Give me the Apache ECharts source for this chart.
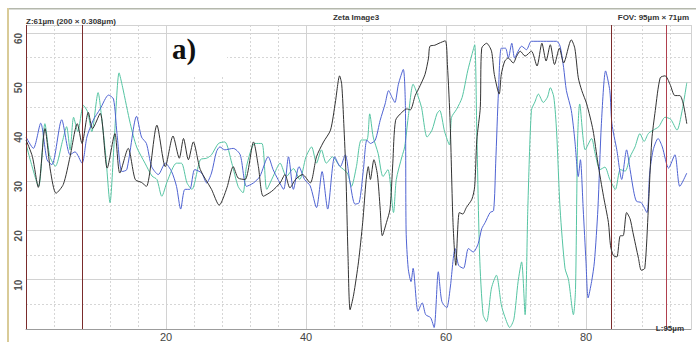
<!DOCTYPE html>
<html>
<head>
<meta charset="utf-8">
<script src="https://cdn.jsdelivr.net/npm/echarts@6/dist/echarts.min.js"></script>
<style>
  html, body { margin: 0; padding: 0; background: #fff; }
  #chart { width: 696px; height: 342px; }
</style>
</head>
<body>
<div id="chart"></div>
<script>
// Height profiles along the scan line (x in µm, height in µm)
const blackX = [0,0.9,1.76,2.71,3.5,4.29,5.33,6.29,7.33,8.0,8.9,9.5,10.6,11.6,12.7,13.4,14.6,15.6,16.5,17.2,18.7,19.9,21.0,21.9,22.5,23.2,23.9,24.9,26.5,27.6,28.7,29.6,30.3,31.3,32.5,33.2,33.9,35.1,36.3,37.0,37.7,38.5,39.5,40.6,41.5,42.5,43.5,44.2,44.8,45.1,45.4,45.7,46.0,46.3,46.8,47.5,48.1,48.6,48.9,49.2,49.7,50.2,50.6,50.9,51.5,52.0,52.4,52.8,53.7,54.4,54.9,55.6,56.3,57.0,57.5,57.7,58.4,59.0,59.9,60.2,60.6,61.0,61.4,61.9,62.4,62.9,63.7,64.1,64.4,64.9,65.1,65.8,66.5,66.9,67.6,67.9,68.4,68.9,69.6,70.1,70.6,71.3,72.2,73.0,73.7,74.3,74.9,75.5,76.2,76.8,77.9,78.4,78.9,79.4,80.1,81.0,81.7,82.5,83.2,83.5,83.9,84.4,84.9,85.3,85.8,86.3,86.7,87.5,87.9,88.4,88.9,89.4,89.9,90.6,91.3,92.0,92.7,93.4,93.9,94.4];
const blackY = [38.3,35,28.7,40.6,32,27.5,29.3,34.9,41.6,37.6,43.9,40.6,43.7,32.6,39.6,31.6,36.6,30.3,29.7,28.9,41.3,32.9,39.1,34.6,38.6,34.3,37.9,32.3,28.3,25.1,28.6,32.9,30.6,30.3,37.9,32.9,26.9,27.9,29.6,31.3,28.6,30.3,31.3,29.6,34.9,37.9,40.3,46.0,51.3,49.6,41.6,31.6,14.9,3.9,6.9,13.6,21.6,30.3,32.9,30.3,34.3,31.3,24.3,18.9,21.6,24.3,33.6,42.3,43.9,44.6,44.4,47.3,49.3,51.6,54.9,57.3,57.5,57.9,58.4,53.6,41.6,21.6,12.9,23.6,23.3,24.6,26.3,28.9,38.3,44.9,56.9,57.9,56.3,51.6,47.6,51.6,54.3,54.9,53.9,55.3,56.3,55.3,56.3,53.3,57.9,54.3,57.6,53.6,56.9,53.9,58.6,56.9,50.9,48.3,45.6,40.3,33.6,26.9,21.6,16.9,14.9,14.6,18.9,18.9,23.6,22.3,19.6,14.3,11.9,12.3,24.3,38.3,44.3,50.9,51.3,49.6,47.3,47.3,45.6,41.6];

const blueX = [0,1.05,2.1,3.0,3.7,5.1,6.3,7.0,8.0,8.7,9.6,10.6,11.8,12.5,13.0,13.7,14.4,15.8,16.5,17.2,17.95,18.9,19.9,20.8,21.5,22.1,22.7,23.4,24.1,25.1,25.8,26.5,27.2,27.7,28.4,29.6,30.6,31.5,32.5,33.4,34.6,35.3,36.0,36.8,37.5,38.2,39.0,39.8,40.6,41.5,42.3,43.1,44.1,44.9,45.6,46.3,47.0,47.6,48.2,48.7,49.2,49.9,50.6,51.3,51.8,52.3,52.7,53.2,53.9,54.2,54.3,54.6,55.0,55.3,56.0,56.6,57.1,57.8,58.3,58.9,59.4,60.1,60.6,61.3,61.8,62.5,63.2,63.9,64.6,65.1,65.6,66.3,66.8,67.1,67.5,67.9,68.5,68.9,69.4,69.8,70.3,70.8,71.5,72.2,73.9,75.8,76.3,76.8,77.2,77.9,78.4,78.9,79.2,79.6,80.0,80.3,80.8,81.2,81.7,82.2,82.8,83.4,83.7,84.4,85.1,85.8,86.3,86.8,87.2,87.9,88.7,89.1,89.6,90.3,90.9,91.8,92.7,93.4,94.4];
const blueY = [38.9,36.6,41.7,34.3,33.3,42.4,35.3,35.9,33.6,38.9,42.3,44.6,47.4,46.6,39.6,31.9,32.3,43.1,38.9,37.6,32.9,31.3,33.6,31.9,28.9,24.3,28.3,28.3,32.3,31.6,29.6,31.6,35.9,36.9,36.3,36.6,35.3,28.9,29.6,30.9,34.9,32.3,30.3,28.3,34.9,28.3,32.9,30.3,29.0,24.6,31.9,24.3,34.9,32.9,35.3,29.6,25.3,25.6,32.3,38.3,37.6,38.3,42.3,45.6,48.3,46.9,45.9,49.6,52.6,44.9,20,12.3,9.6,12.3,3.6,5.3,2.9,2.3,0.3,11.6,5.6,4.3,8.3,16.3,12.9,12.3,16.3,15.6,17.3,20.3,21.6,23.6,24,33.6,48.3,56.9,56.9,54.9,57.9,54.9,56.3,57.3,56.6,58.3,58.3,58.3,57.3,53,48.3,44.3,38.3,30.9,34.3,24.3,13.6,6.3,9.6,13.6,24.3,41.6,52.3,48.3,41.6,36.3,30.3,36.3,32.3,28,25.9,25.6,23.6,31.6,36.3,38.6,36.9,32.6,35.3,28.9,31.6];

const tealX = [0,0.6,1.8,2.7,3.4,4.2,5.2,5.8,6.3,6.8,7.4,8.2,8.8,9.4,10.3,10.8,11.4,12.0,12.6,13.3,13.8,14.9,15.8,17.0,18.0,18.7,19.4,20.2,21.5,22.2,23.0,23.7,24.9,25.8,26.5,27.5,28.4,29.4,30.3,31.0,31.5,32.7,33.7,34.4,35.3,36.3,37.2,38.2,39.1,40.0,40.8,41.5,42.2,42.9,43.8,44.8,45.9,46.5,47.2,47.9,48.7,49.1,49.6,50.3,51.0,51.7,52.5,52.9,53.7,54.1,54.6,55.3,55.8,56.5,57.3,58.0,58.7,59.1,59.8,60.5,60.8,61.5,62.3,63.1,63.7,64.1,64.4,64.8,65.3,65.8,66.5,67.2,67.9,68.4,69.1,69.7,70.3,70.8,71.3,71.7,72.2,72.7,73.2,73.9,74.5,74.9,75.4,75.8,76.3,77.0,77.5,78.2,78.5,78.8,79.1,79.9,80.8,81.3,82.0,82.7,83.4,84.2,84.9,85.6,86.3,87.0,87.7,88.3,88.9,89.6,90.4,91.3,92.1,93.0,93.7,94.4];
const tealY = [37.6,34.3,28.9,41.6,35,33,38,41,36.3,42.9,40,45.3,44,40,47.9,42.9,35,25.6,38,51.9,49,41.6,36.9,33.6,31,30.3,26.9,30,33.6,33.6,29.6,28.3,34.3,34.6,35.3,37.6,37.9,33.6,28.9,27.6,32.9,37.6,37.6,28.3,30.9,33.6,30.9,32.5,30.3,34.9,36.9,33.6,36.3,33.6,34.9,33,31.6,28.9,32.9,38.3,38.3,43.6,38.9,35.6,30.9,32.3,23.6,30.3,34.9,36.9,42.9,49.6,48,44.9,38.9,40.3,43.6,44.3,40,37.3,42.9,44.5,46.9,52.3,55.6,57.6,40,15,2.9,1.5,8.3,10.9,4.9,2.5,0.3,2,9.6,13.6,2.9,25,44.3,46,47.6,45.9,47,48.9,47,40,24.3,12.3,10,2.9,8,38.3,45.6,36.3,38.6,35.6,32.3,32.8,30.3,28.3,32.3,32,34.9,36.9,39.6,38,39.6,40.3,41,42.9,42.5,40.3,44,49.9];

// Cursor positions marked on the profile (µm)
const cursorX = [0, 8.0, 83.6, 91.5];
const cursorColors = ['#7a2c2c', '#7a2c2c', '#7a2c2c', '#b0404e'];

const xLabelStep = 20, xMinorStep = 4, xMax = 95;
const yLabelStep = 10, yMinorStep = 5, yMax = 61.6;

const zip = (xs, ys) => xs.map((x, i) => [x, ys[i]]);

const chart = echarts.init(document.getElementById('chart'), null, { renderer: 'svg' });

const axisFont = 'Liberation Sans, Arial, sans-serif';

const profileLine = (name, xs, ys, color, z) => ({
  name, type: 'line', data: zip(xs, ys), showSymbol: false, z, silent: true,
  smooth: 0.25,
  lineStyle: { color, width: 1 }
});

const option = {
  animation: false,
  backgroundColor: '#ffffff',
  grid: { left: 26, top: 25, width: 665, height: 308, containLabel: false },
  xAxis: [
    {
      type: 'value', min: 0, max: xMax, interval: xLabelStep, z: 1,
      axisLine: { show: true, lineStyle: { color: '#9c9c9c', width: 1 } },
      axisTick: { show: false },
      axisLabel: { showMinLabel: false, showMaxLabel: false, color: '#444', fontSize: 11, margin: 2, fontFamily: axisFont },
      splitLine: { show: true, lineStyle: { color: '#d2d2d2', width: 1 } }
    },
    {
      type: 'value', min: 0, max: xMax, interval: xMinorStep, position: 'top', z: 0,
      axisLine: { show: false }, axisTick: { show: false }, axisLabel: { show: false },
      splitLine: { show: true, lineStyle: { color: '#d6d6d6', width: 1, type: [2, 2] } }
    }
  ],
  yAxis: [
    {
      type: 'value', min: 0, max: yMax, interval: yLabelStep, z: 1,
      axisLine: { show: false },
      axisTick: { show: false },
      axisLabel: {
        showMinLabel: false, showMaxLabel: false, rotate: 90, align: 'right', verticalAlign: 'bottom',
        margin: 3, color: '#555', fontSize: 10, fontWeight: 'bold', fontFamily: axisFont
      },
      splitLine: { show: true, lineStyle: { color: '#d2d2d2', width: 1 } }
    },
    {
      type: 'value', min: 0, max: yMax, interval: yMinorStep, position: 'right', z: 0,
      axisLine: { show: false }, axisTick: { show: false }, axisLabel: { show: false },
      splitLine: { show: true, lineStyle: { color: '#d6d6d6', width: 1, type: [2, 2] } }
    }
  ],
  series: [
    profileLine('profile 1', tealX, tealY, '#55c4a2', 3),
    profileLine('profile 2', blueX, blueY, '#4f63d2', 4),
    profileLine('profile 3', blackX, blackY, '#333333', 5),
    {
      name: 'cursors', type: 'line', data: [], z: 6, silent: true,
      markLine: {
        symbol: 'none', silent: true, animation: false, label: { show: false },
        data: cursorX.map((x, i) => ({ xAxis: x, lineStyle: { color: cursorColors[i], width: 1, type: 'solid' } }))
      }
    }
  ],
  graphic: [
    // window frame edges
    { type: 'rect', left: 7, top: 8, shape: { width: 689, height: 1.5 }, style: { fill: '#b4b8ac' }, z: 20 },
    { type: 'rect', left: 7, top: 8, shape: { width: 2, height: 334 }, style: { fill: '#d9cb98' }, z: 20 },
    // panel letter with its white backing
    { type: 'rect', left: 151, top: 26, shape: { width: 76, height: 51 }, style: { fill: '#ffffff' }, z: 1 },
    { type: 'text', left: 172, top: 34, style: { text: 'a)', font: 'bold 29px "Liberation Serif", "Times New Roman", serif', fill: '#111' }, z: 20 },
    { type: 'text', x: 356, y: 17, style: { text: 'Zeta Image3', font: 'bold 8px "Liberation Sans", Arial, sans-serif', fill: '#333', textAlign: 'center', textVerticalAlign: 'middle' }, z: 20 },
    { type: 'text', x: 26, y: 21.5, style: { text: 'Z:61µm (200 × 0.308µm)', font: 'bold 8px "Liberation Sans", Arial, sans-serif', fill: '#333', textAlign: 'left', textVerticalAlign: 'middle' }, z: 20 },
    { type: 'text', x: 689, y: 17, style: { text: 'FOV: 95µm × 71µm', font: 'bold 8px "Liberation Sans", Arial, sans-serif', fill: '#333', textAlign: 'right', textVerticalAlign: 'middle' }, z: 20 },
    { type: 'text', x: 684, y: 328, style: { text: 'L:95µm', font: 'bold 8px "Liberation Sans", Arial, sans-serif', fill: '#333', textAlign: 'right', textVerticalAlign: 'middle' }, z: 20 }
  ]
};

chart.setOption(option);
</script>
</body>
</html>
